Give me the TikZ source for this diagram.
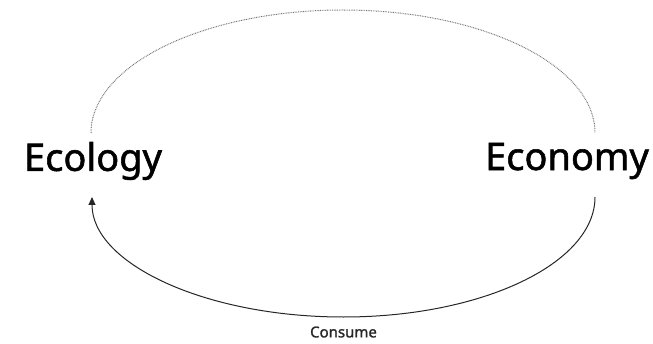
\documentclass[tikz,border=0pt]{standalone}
\usepackage{fontspec}
\setmainfont{Noto Sans}[FakeBold=1.4]
\usetikzlibrary{arrows.meta}

\begin{document}
\begin{tikzpicture}[x=1pt,y=1pt]
      \tikzset{
        word/.style={font=\fontsize{38}{40}\selectfont\bfseries, inner sep=0pt},
        flow/.style={draw=black!85, line width=1pt, -{Triangle[length=8pt,width=7pt]}},
        back/.style={draw=black!55, line width=1pt, dash pattern=on 0.8pt off 0.9pt}
      }
      \useasboundingbox (0,0) rectangle (653,343);
      \node[word] (ecology) at (93,182) {Ecology};
      \node[word] (economy) at (567,182) {Economy};
      % ends of the two loops
      \coordinate (ecotop) at (91,210);
      \coordinate (econtop) at (595,210);
      \coordinate (econbot) at (595,146);
      \draw[back] (ecotop) arc [start angle=180, end angle=0, x radius=252pt, y radius=123pt];
      \draw[flow] (econbot) arc [start angle=0, end angle=-180, x radius=251.5pt, y radius=120pt]
        node[pos=0.5, below=9pt, font=\fontsize{15}{18}\selectfont, text=black!85, inner sep=0pt] (consume) {Consume};
    \end{tikzpicture}
\end{document}
